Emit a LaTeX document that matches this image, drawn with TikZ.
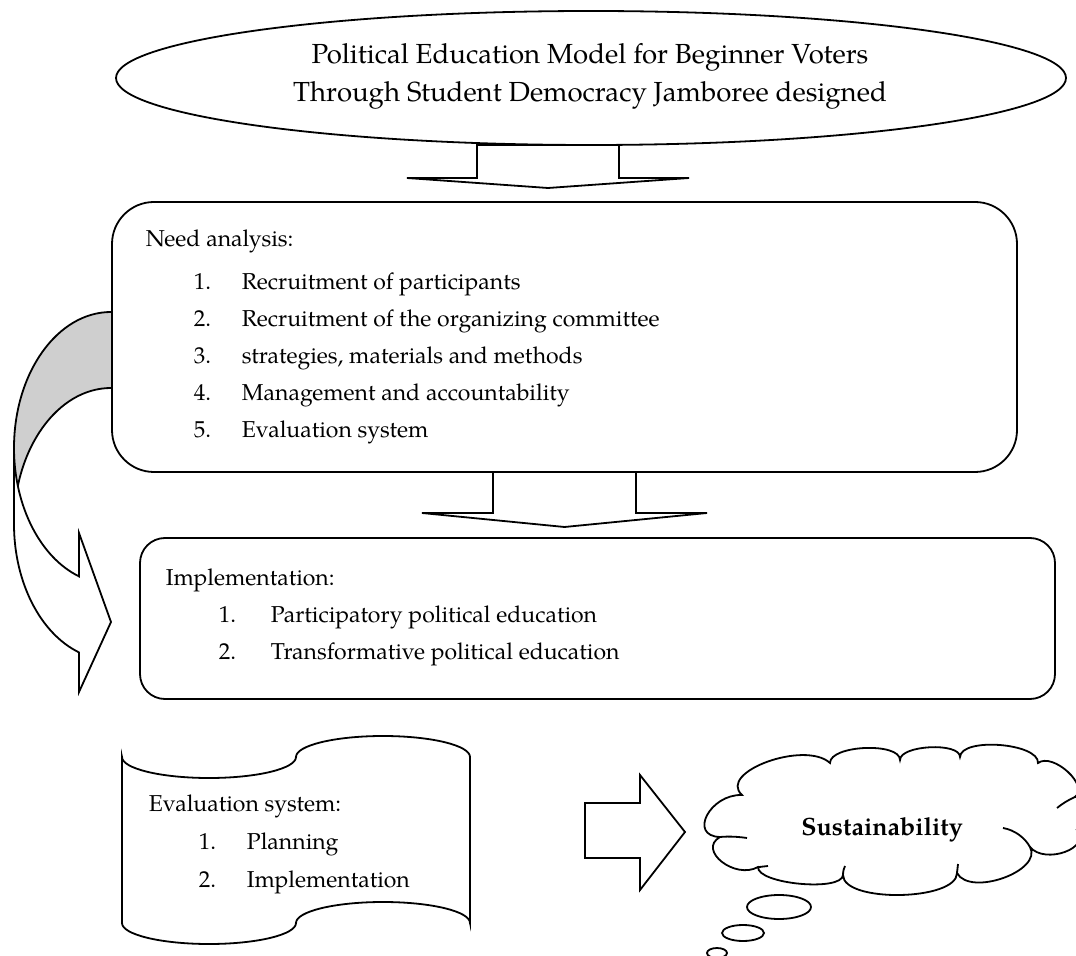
\documentclass[tikz,border=0pt]{standalone}
\usepackage{fontspec}
\setmainfont{texgyrepagella}[Extension=.otf, UprightFont=*-regular, BoldFont=*-bold, ItalicFont=*-italic, BoldItalicFont=*-bolditalic]
\usetikzlibrary{shapes.geometric}
\begin{document}
\begin{tikzpicture}[x=0.5pt,y=-0.5pt,line width=0.9pt,
  txt/.style={anchor=base west,inner sep=0pt,font=\fontsize{11.5}{13}\selectfont},
  ttl/.style={anchor=base,inner sep=0pt,font=\fontsize{13.8}{16}\selectfont},
  rbox/.style={draw,rectangle,inner sep=0pt},
  blockarrow/.style={draw,fill=white,line join=miter}]
\useasboundingbox (0,0) rectangle (1076,956);
% title ellipse
\node (title) [draw,ellipse,inner sep=0pt,minimum width=475pt,minimum height=67pt] at (591,78) {};
\node (t1) [ttl] at (590,64) {Political Education Model for Beginner Voters};
\node (t2) [ttl] at (590,102) {Through Student Democracy Jamboree designed};
% down arrow 1
\draw[blockarrow] (477,145) -- (477,178) -- (407,178) -- (548,188) -- (689,178) -- (619,178) -- (619,145) -- cycle;
% curved arrow (back part)
\fill[gray!38] (111,312) arc[start angle=270,end angle=180,x radius=97,y radius=136] -- (14,524) arc[start angle=180,end angle=270,x radius=97,y radius=136] -- cycle;
\draw (111,312) arc[start angle=270,end angle=180,x radius=97,y radius=136] -- (14,524) arc[start angle=180,end angle=270,x radius=97,y radius=136];
% curved arrow (front part)
\draw[fill=white] (14,448) arc[start angle=180,end angle=109.26,x radius=97,y radius=136] -- (79,533) -- (111,622) -- (79,692) -- (79,652.4) arc[start angle=109.26,end angle=180,x radius=97,y radius=136] -- cycle;
% need analysis box
\node (need) [rbox,rounded corners=21pt,minimum width=452.5pt,minimum height=135pt] at (564.5,337) {};
\node (n0) [txt] at (145,247) {Need analysis:};
\node (n1a) [txt] at (193,290) {1.};
\node (n1) [txt] at (241,290) {Recruitment of participants};
\node (n2a) [txt] at (193,327) {2.};
\node (n2) [txt] at (241,327) {Recruitment of the organizing committee};
\node (n3a) [txt] at (193,364) {3.};
\node (n3) [txt] at (241,364) {strategies, materials and methods};
\node (n4a) [txt] at (193,401) {4.};
\node (n4) [txt] at (241,401) {Management and accountability};
\node (n5a) [txt] at (193,438) {5.};
\node (n5) [txt] at (241,438) {Evaluation system};
% down arrow 2
\draw[blockarrow] (493,472) -- (493,513) -- (422,513) -- (564.5,527) -- (707,513) -- (636,513) -- (636,472) -- cycle;
% implementation box
\node (impl) [rbox,rounded corners=12.5pt,minimum width=457.5pt,minimum height=80.5pt] at (597.5,618.5) {};
\node (i0) [txt] at (165,586) {Implementation:};
\node (i1a) [txt] at (218,623) {1.};
\node (i1) [txt] at (270,623) {Participatory political education};
\node (i2a) [txt] at (218,660) {2.};
\node (i2) [txt] at (270,660) {Transformative political education};
% evaluation (punched tape)
\draw (122,757) arc[start angle=180,end angle=0,x radius=87,y radius=21]
  arc[start angle=180,end angle=360,x radius=87,y radius=21] -- (470,923)
  arc[start angle=360,end angle=180,x radius=87,y radius=21]
  arc[start angle=0,end angle=180,x radius=87,y radius=21] -- cycle;
\node (e0) [txt] at (148,811) {Evaluation system:};
\node (e1a) [txt] at (198,849) {1.};
\node (e1) [txt] at (246,849) {Planning};
\node (e2a) [txt] at (198,887) {2.};
\node (e2) [txt] at (246,887) {Implementation};
% right block arrow
\draw[blockarrow] (585,803) -- (640,803) -- (640,775) -- (685,832) -- (640,890) -- (640,858) -- (585,858) -- cycle;
% cloud
\draw (742,795) .. controls (710,794) and (688,836) .. (720,837)
  .. controls (697,850) and (735,880) .. (758,867)
  .. controls (757,884) and (842,892) .. (843,875)
  .. controls (843,903) and (957,901) .. (957,873)
  .. controls (970,897) and (1043,871) .. (1030,847)
  .. controls (1045,865) and (1092,848) .. (1077,830)
  .. controls (1102,829) and (1100,796) .. (1075,797)
  .. controls (1090,786) and (1053,752) .. (1038,763)
  .. controls (1039,743) and (961,737) .. (960,757)
  .. controls (960,742) and (900,745) .. (900,760)
  .. controls (900,742) and (830,745) .. (830,763)
  .. controls (805,740) and (717,772) .. (742,795) -- cycle;
\draw (720,837) .. controls (730,836) and (740,837) .. (747,838);
\draw (758,867) .. controls (762,867) and (765,866) .. (768,866);
\draw (843,875) .. controls (843,871) and (844,868) .. (845,866);
\draw (957,873) .. controls (957,870) and (958,867) .. (958,864);
\draw (1030,847) .. controls (1025,838) and (1015,830) .. (1003,828);
\draw (1075,797) .. controls (1068,800) and (1062,804) .. (1057,808);
\node (sus) [anchor=base,inner sep=0pt,font=\fontsize{12.5}{14}\selectfont\bfseries] at (882,835) {Sustainability};
\draw (779,907) ellipse [x radius=32,y radius=12];
\draw (743,933) ellipse [x radius=21,y radius=8];
\draw (717,953) ellipse [x radius=10,y radius=5];
\end{tikzpicture}
\end{document}
